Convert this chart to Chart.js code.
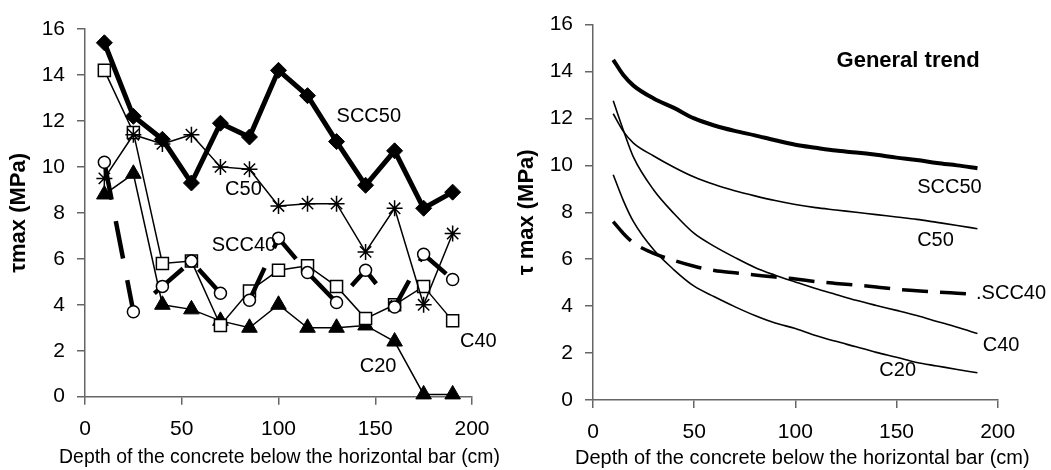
<!DOCTYPE html>
<html>
<head>
<meta charset="utf-8">
<script src="https://cdn.jsdelivr.net/npm/chart.js@4/dist/chart.umd.min.js"></script>
<style>
  html, body { margin: 0; padding: 0; background: #fff; }
  #wrap { position: relative; width: 1051px; height: 470px; }
  canvas { position: absolute; top: 0; }
  #measuredChart { left: 0; }
  #trendChart { left: 505px; }
</style>
</head>
<body>
<div id="wrap">
  <canvas id="measuredChart" width="505" height="470"></canvas>
  <canvas id="trendChart" width="546" height="470"></canvas>
</div>
<script>
// Measured bond stress along the depth of the specimen (cm)
const depth = [10, 25, 40, 55, 70, 85, 100, 115, 130, 145, 160, 175, 190];
const scc50 = [15.4, 12.2, 11.2, 9.3, 11.9, 11.3, 14.2, 13.1, 11.1, 9.2, 10.7, 8.2, 8.9];
const c50   = [9.5, 11.4, 11.0, 11.4, 10.0, 9.9, 8.3, 8.4, 8.4, 6.3, 8.2, 4.0, 7.1];
const c40   = [14.2, 11.5, 5.8, 5.9, 3.1, 4.6, 5.5, 5.7, 4.8, 3.4, 4.0, 4.8, 3.3];
const scc40 = [10.2, 3.7, 4.8, 5.9, 4.5, 4.2, 6.9, 5.4, 4.1, 5.5, 3.9, 6.2, 5.1];
const c20   = [8.8, 9.7, 4.0, 3.8, 3.3, 3.0, 4.0, 3.0, 3.0, 3.1, 2.4, 0.1, 0.1];

// General trend curves
const trendDepth = [10, 15, 20, 30, 40, 50, 60, 70, 80, 90, 100, 110, 120, 130, 140, 150, 160, 170, 180, 190];
const trendScc50 = [14.5, 13.85, 13.4, 12.85, 12.45, 12.0, 11.7, 11.47, 11.28, 11.07, 10.88, 10.75, 10.63, 10.55, 10.45, 10.33, 10.23, 10.1, 10.0, 9.88];
const trendC50   = [12.2, 11.45, 10.95, 10.4, 9.92, 9.5, 9.18, 8.92, 8.7, 8.5, 8.33, 8.2, 8.1, 8.0, 7.9, 7.8, 7.7, 7.57, 7.44, 7.3];
const trendC40   = [12.75, 11.5, 10.35, 8.95, 7.95, 7.1, 6.55, 6.08, 5.65, 5.32, 5.03, 4.75, 4.5, 4.25, 4.03, 3.82, 3.6, 3.35, 3.1, 2.83];
const trendScc40 = [7.6, 7.1, 6.7, 6.25, 5.95, 5.7, 5.52, 5.42, 5.33, 5.24, 5.16, 5.05, 4.97, 4.9, 4.82, 4.72, 4.66, 4.6, 4.55, 4.5];
const trendC20   = [9.6, 8.5, 7.6, 6.4, 5.55, 4.85, 4.4, 3.98, 3.6, 3.28, 3.05, 2.75, 2.5, 2.27, 2.03, 1.82, 1.6, 1.45, 1.3, 1.16];

const xTicks = [0, 50, 100, 150, 200];
const yTicks = [0, 2, 4, 6, 8, 10, 12, 14, 16];
const xTitle = 'Depth of the concrete below the horizontal bar (cm)';

const FONT = "'Liberation Sans', Arial, Helvetica, sans-serif";
const AXIS_GREY = '#666';
Chart.defaults.font.family = FONT;
Chart.defaults.color = '#000';

function toPoints(xs, ys) {
    return xs.map((x, i) => ({ x: x, y: ys[i] }));
}

// curve names (in data units) and the depth caption under the x axis
const curveLabels = {
    id: 'curveLabels',
    afterDatasetsDraw(chart, args, opts) {
        const { ctx, chartArea } = chart;
        const xs = chart.scales.x, ys = chart.scales.y;
        ctx.save();
        ctx.fillStyle = '#000';
        ctx.textBaseline = 'middle';
        (opts.items || []).forEach(l => {
            ctx.font = (l.bold ? 'bold ' : '') + (l.size || 20) + 'px ' + FONT;
            ctx.textAlign = l.align || 'left';
            ctx.fillText(l.text, xs.getPixelForValue(l.x), ys.getPixelForValue(l.y));
        });
        ctx.font = (opts.titleSize || 20) + 'px ' + FONT;
        ctx.textAlign = 'center';
        const cx = (chartArea.left + chartArea.right) / 2 + (opts.titleShift || 0);
        ctx.fillText(xTitle, cx, chart.height - 12);
        ctx.restore();
    }
};

function xAxis(height) {
    return {
        type: 'linear',
        min: xTicks[0],
        max: xTicks[xTicks.length - 1],
        afterBuildTicks: s => { s.ticks = xTicks.map(v => ({ value: v })); },
        ticks: { padding: 12, font: { size: 21 }, color: '#000' },
        grid: { drawOnChartArea: false, tickLength: 8, color: AXIS_GREY, lineWidth: 1.5 },
        border: { color: AXIS_GREY, width: 1.5 },
        title: { display: false },
        afterFit: s => { s.height = height; }
    };
}

function yAxis(width, titleText, titlePad) {
    return {
        type: 'linear',
        min: yTicks[0],
        max: yTicks[yTicks.length - 1],
        afterBuildTicks: s => { s.ticks = yTicks.map(v => ({ value: v })); },
        ticks: { padding: 12, font: { size: 21 }, color: '#000' },
        grid: { drawOnChartArea: false, tickLength: 8, color: AXIS_GREY, lineWidth: 1.5 },
        border: { color: AXIS_GREY, width: 1.5 },
        title: {
            display: true,
            text: titleText,
            font: { size: 22, weight: 'bold' },
            color: '#000',
            padding: { top: titlePad, bottom: 0 }
        },
        afterFit: s => { s.width = width; }
    };
}

new Chart(document.getElementById('measuredChart'), {
    type: 'line',
    data: {
        datasets: [
            {
                label: 'SCC50', data: toPoints(depth, scc50),
                borderColor: '#000', borderWidth: 5,
                pointStyle: 'rectRot', pointRadius: 8,
                pointBackgroundColor: '#000', pointBorderColor: '#000', pointBorderWidth: 1
            },
            {
                label: 'SCC40', data: toPoints(depth, scc40),
                borderColor: '#000', borderWidth: 4.5, borderDash: [38, 22],
                pointStyle: 'circle', pointRadius: 6,
                pointBackgroundColor: '#fff', pointBorderColor: '#000', pointBorderWidth: 1.5
            },
            {
                label: 'C50', data: toPoints(depth, c50),
                borderColor: '#000', borderWidth: 1.5,
                pointStyle: 'star', pointRadius: 8,
                pointBorderColor: '#000', pointBorderWidth: 1.5
            },
            {
                label: 'C40', data: toPoints(depth, c40),
                borderColor: '#000', borderWidth: 1.5,
                pointStyle: 'rect', pointRadius: 8.5,
                pointBackgroundColor: '#fff', pointBorderColor: '#000', pointBorderWidth: 1.5
            },
            {
                label: 'C20', data: toPoints(depth, c20),
                borderColor: '#000', borderWidth: 1.5,
                pointStyle: 'triangle', pointRadius: 9,
                pointBackgroundColor: '#000', pointBorderColor: '#000', pointBorderWidth: 1
            }
        ]
    },
    options: {
        responsive: false,
        animation: false,
        clip: false,
        layout: { padding: { top: 29, right: 33, left: 0, bottom: 0 } },
        plugins: {
            legend: { display: false },
            tooltip: { enabled: false },
            curveLabels: {
                titleSize: 19.4,
                titleShift: 1,
                items: [
                    { text: 'SCC50', x: 130, y: 12.2 },
                    { text: 'C50', x: 72.4, y: 9.0 },
                    { text: 'SCC40', x: 65.5, y: 6.6 },
                    { text: 'C40', x: 193.8, y: 2.4 },
                    { text: 'C20', x: 142, y: 1.3 }
                ]
            }
        },
        scales: {
            x: xAxis(73.3),
            y: yAxis(85, 'τmax (MPa)', 6)
        }
    },
    plugins: [curveLabels]
});

new Chart(document.getElementById('trendChart'), {
    type: 'line',
    data: {
        datasets: [
            { label: 'SCC50', data: toPoints(trendDepth, trendScc50), borderWidth: 4 },
            { label: 'C50', data: toPoints(trendDepth, trendC50), borderWidth: 1.6 },
            { label: 'SCC40', data: toPoints(trendDepth, trendScc40), borderWidth: 3.5, borderDash: [26, 12] },
            { label: 'C40', data: toPoints(trendDepth, trendC40), borderWidth: 1.6 },
            { label: 'C20', data: toPoints(trendDepth, trendC20), borderWidth: 1.6 }
        ].map(d => Object.assign({
            borderColor: '#000', pointRadius: 0, cubicInterpolationMode: 'monotone'
        }, d))
    },
    options: {
        responsive: false,
        animation: false,
        clip: false,
        layout: { padding: { top: 23.3, right: 53.3, left: 0, bottom: 0 } },
        plugins: {
            legend: { display: false },
            tooltip: { enabled: false },
            curveLabels: {
                titleSize: 20,
                titleShift: 7,
                items: [
                    { text: 'General trend', x: 155.7, y: 14.45, bold: true, size: 22, align: 'center' },
                    { text: 'SCC50', x: 160.2, y: 9.05 },
                    { text: 'C50', x: 160.2, y: 6.8 },
                    { text: '.SCC40', x: 189.3, y: 4.56 },
                    { text: 'C40', x: 192.6, y: 2.34 },
                    { text: 'C20', x: 141.5, y: 1.25 }
                ]
            }
        },
        scales: {
            x: xAxis(70),
            y: yAxis(88, 'τ max (MPa)', 9)
        }
    },
    plugins: [curveLabels]
});
</script>
</body>
</html>
